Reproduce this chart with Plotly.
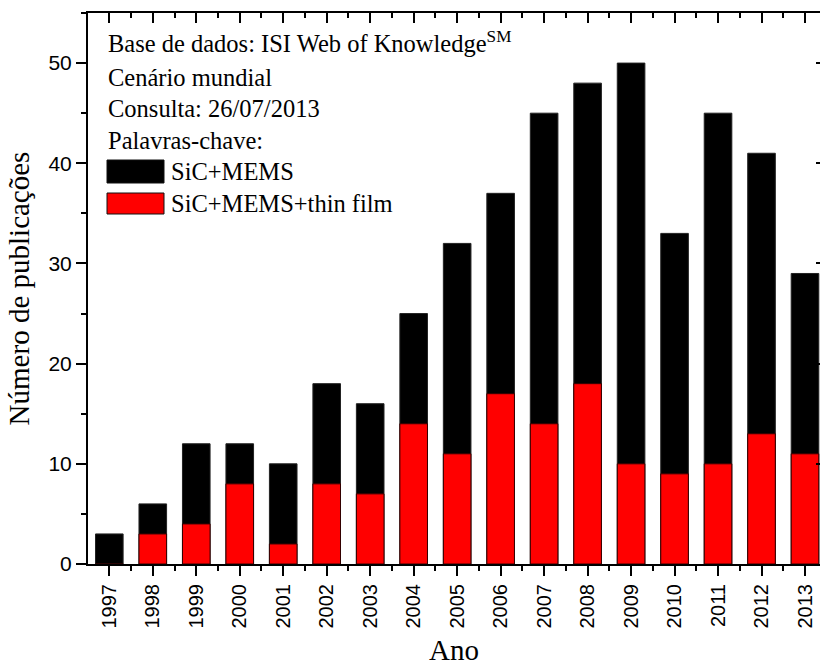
import plotly.graph_objects as go

years = [1997, 1998, 1999, 2000, 2001, 2002, 2003, 2004, 2005, 2006, 2007, 2008, 2009, 2010, 2011, 2012, 2013]
sic_mems = [3, 6, 12, 12, 10, 18, 16, 25, 32, 37, 45, 48, 50, 33, 45, 41, 29]
sic_mems_thin = [0, 3, 4, 8, 2, 8, 7, 14, 11, 17, 14, 18, 10, 9, 10, 13, 11]
year_labels = [str(y) for y in years]

info_lines = [
    "Base de dados: ISI Web of Knowledge<sup>SM</sup>",
    "Cenário mundial",
    "Consulta: 26/07/2013",
    "Palavras-chave:",
]
series_names = ["SiC+MEMS", "SiC+MEMS+thin film"]
series_colors = ["#000000", "#ff0000"]

W, H = 820, 666
L, R, T, B = 88, 0, 13, 102
PW, PH = W - L - R, H - T - B

def px(x):
    return (x - L) / PW

def py(y):
    return (H - B - y) / PH

serif = "Liberation Serif, Times New Roman, serif"
sans = "Liberation Sans, Arial, sans-serif"

fig = go.Figure()
fig.add_trace(go.Bar(x=years, y=sic_mems, name=series_names[0], width=0.635,
                     marker=dict(color=series_colors[0], line=dict(color="#222222", width=1)),
                     showlegend=False))
fig.add_trace(go.Bar(x=years, y=sic_mems_thin, name=series_names[1], width=0.635,
                     marker=dict(color=series_colors[1], line=dict(color="#330000", width=1)),
                     showlegend=False))
# invisible trace to activate the mirrored (top/right) axes
fig.add_trace(go.Scatter(x=years, y=sic_mems, xaxis="x2", yaxis="y2", mode="markers",
                         marker=dict(opacity=0), hoverinfo="skip", showlegend=False))

xr = [1996.51, 2013.345]
yr = [0, 55]

fig.update_layout(
    width=W, height=H,
    margin=dict(l=L, r=R, t=T, b=B),
    paper_bgcolor="white", plot_bgcolor="white",
    barmode="overlay",
    xaxis=dict(range=xr, tickmode="array", tickvals=years, ticktext=year_labels,
               tickangle=-90, ticks="outside", ticklen=10, tickwidth=2, tickcolor="black",
               showline=True, linecolor="black", linewidth=2, showgrid=False, zeroline=False,
               tickfont=dict(family=sans, size=20, color="black"),
               minor=dict(tickmode="linear", tick0=1996.5, dtick=1, ticks="outside",
                          ticklen=5, tickwidth=2, tickcolor="black", showgrid=False),
               title=dict(text="Ano", font=dict(family=serif, size=29, color="black"), standoff=14)),
    yaxis=dict(range=yr, tickmode="linear", tick0=0, dtick=10, ticks="outside", ticklen=10,
               tickwidth=2, tickcolor="black", showline=True, linecolor="black", linewidth=2,
               showgrid=False, zeroline=False,
               tickfont=dict(family=sans, size=21, color="black"),
               minor=dict(tickmode="linear", tick0=5, dtick=10, ticks="outside", ticklen=5,
                          tickwidth=2, tickcolor="black", showgrid=False),
               title=dict(text="Número de publicações", font=dict(family=serif, size=29, color="black"),
                          standoff=10)),
    xaxis2=dict(overlaying="x", side="top", anchor="y2", range=xr, tickmode="array", tickvals=years,
                showticklabels=False, ticks="inside", ticklen=10, tickwidth=2, tickcolor="black",
                showline=True, linecolor="black", linewidth=2, showgrid=False, zeroline=False,
                minor=dict(tickmode="linear", tick0=1996.5, dtick=1, ticks="inside", ticklen=5,
                           tickwidth=2, tickcolor="black", showgrid=False)),
    yaxis2=dict(overlaying="y", side="right", anchor="x2", range=yr, tickmode="linear", tick0=0, dtick=10,
                showticklabels=False, ticks="inside", ticklen=4, tickwidth=2, tickcolor="black",
                showline=False, showgrid=False, zeroline=False),
)

line_y = [42, 77, 108, 140]
text_x = 106
for txt, yv in zip(info_lines, line_y):
    fig.add_annotation(text=txt, xref="paper", yref="paper", x=px(text_x), y=py(yv),
                       xanchor="left", yanchor="middle", showarrow=False,
                       font=dict(family=serif, size=24.5, color="black"))

sw_y = [(160, 183), (193, 214)]
for name, col, (y0, y1) in zip(series_names, series_colors, sw_y):
    fig.add_shape(type="rect", xref="paper", yref="paper", x0=px(107), x1=px(164),
                  y0=py(y1), y1=py(y0), fillcolor=col, line=dict(color="#111111", width=1))
    fig.add_annotation(text=name, xref="paper", yref="paper", x=px(169), y=py((y0 + y1) / 2),
                       xanchor="left", yanchor="middle", showarrow=False,
                       font=dict(family=serif, size=24.5, color="black"))

fig.write_html("out.html", config={"displayModeBar": False},
               post_script="document.body.style.margin='0';")
